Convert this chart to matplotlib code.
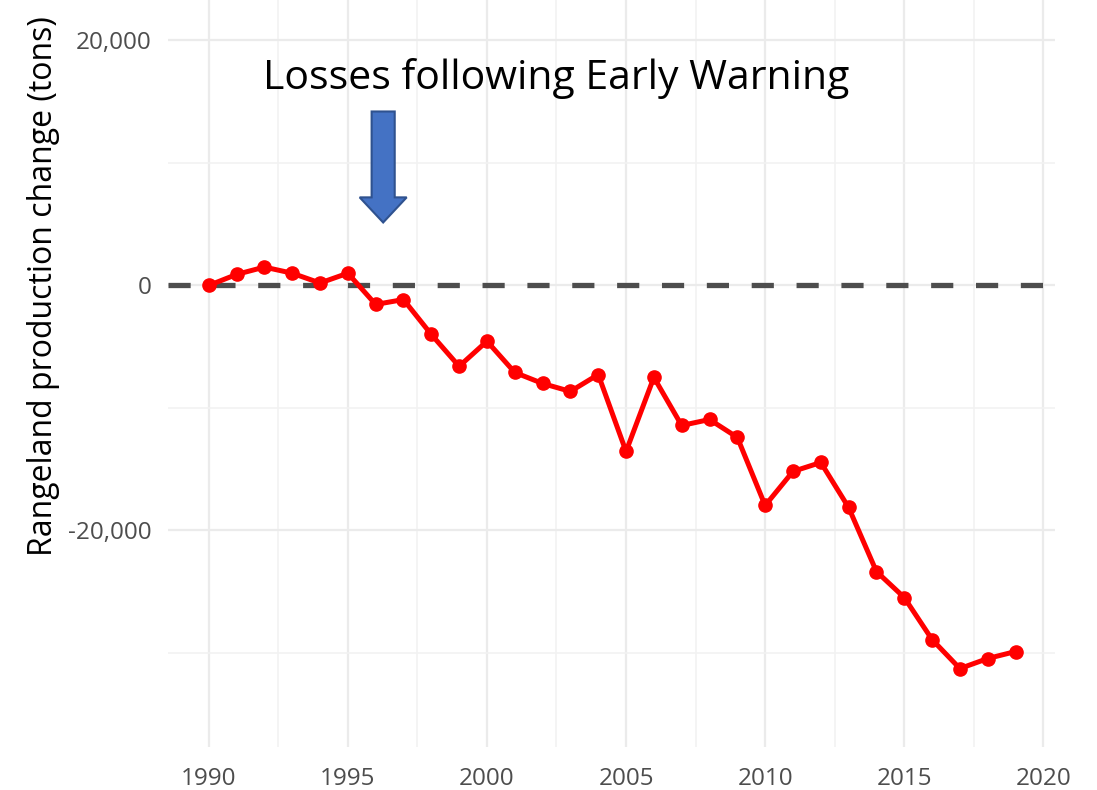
import matplotlib
matplotlib.use("Agg")
import matplotlib.pyplot as plt
import matplotlib.patches as mpatches
from matplotlib.ticker import FuncFormatter, MultipleLocator

# Rangeland production change relative to 1990 (tons).
years = list(range(1990, 2020))
change = [
    0, 900, 1500, 1000, 200, 1000, -1550, -1150, -4000, -6600,
    -4550, -7100, -8000, -8650, -7270, -13550, -7500, -11430, -10940, -12400,
    -17960, -15180, -14450, -18120, -23350, -25470, -28900, -31270, -30450, -29880,
]
x_ticks = [1990, 1995, 2000, 2005, 2010, 2015, 2020]
y_ticks = [-20000, 0, 20000]
annotation = "Losses following Early Warning"
arrow_year = 1996.27
arrow_top, arrow_tip = 14200, 5140

grid_color = "#ebebeb"
tick_color = "#4d4d4d"

plt.rcParams["font.family"] = ["Open Sans", "DejaVu Sans"]

fig = plt.figure(figsize=(10.97, 7.90), dpi=100)
ax = fig.add_axes([0.153, 0.054, 0.809, 0.946])

ax.set_xlim(1988.53, 2020.43)
ax.set_ylim(-37700, 23300)

ax.set_xticks(x_ticks)
ax.set_yticks(y_ticks)
ax.xaxis.set_minor_locator(MultipleLocator(2.5))
ax.yaxis.set_minor_locator(MultipleLocator(10000))
ax.yaxis.set_major_formatter(FuncFormatter(lambda v, p: f"{int(v):,}"))
ax.grid(which="major", color=grid_color, linewidth=1.6)
ax.grid(which="minor", color="#f2f2f2", linewidth=1.2)
ax.set_axisbelow(True)
ax.tick_params(which="both", length=0, labelsize=17.5, colors=tick_color, pad=12)
ax.tick_params(axis="x", pad=14)
for s in ax.spines.values():
    s.set_visible(False)

# zero reference line
ax.axhline(0, color="#4d4d4d", linewidth=3.8, linestyle=(0, (4.2, 4.3)), zorder=2)

ax.plot(years, change, color="#ff0000", linewidth=3.6, marker="o",
        markersize=9.5, zorder=3)

ax.set_ylabel("Rangeland production change (tons)", fontsize=23, color="black")
ax.yaxis.set_label_coords(-0.122, 0.617)

ax.text(2002.48, 16900, annotation, fontsize=29.5, ha="center", va="center",
        color="black")

arrow = mpatches.FancyArrow(
    arrow_year, arrow_top, 0, arrow_tip - arrow_top,
    width=0.83, head_width=1.69, head_length=2050,
    length_includes_head=True, facecolor="#4472c4", edgecolor="#2f528f",
    linewidth=1.5, zorder=4,
)
ax.add_patch(arrow)

fig.savefig("out.png", dpi=100)
